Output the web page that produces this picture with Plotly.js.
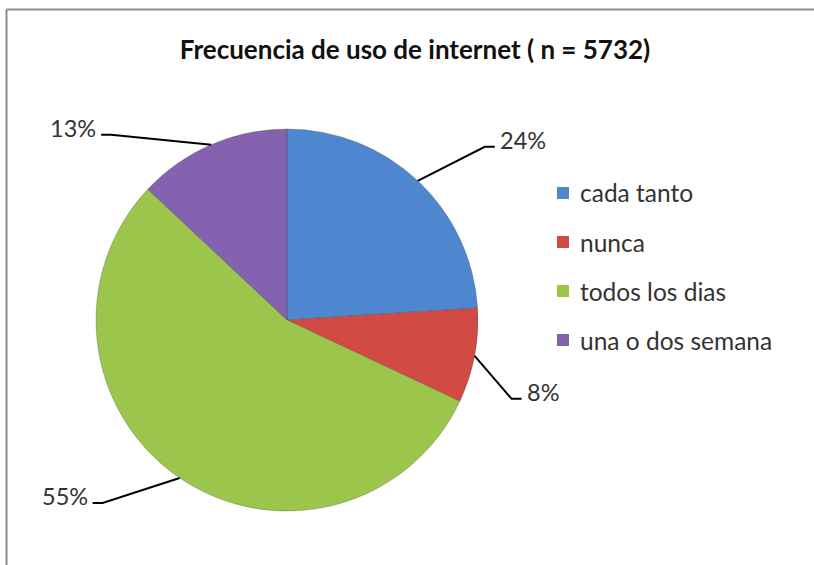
<!DOCTYPE html>
<html>
<head>
<meta charset="utf-8">
<script src="https://cdn.plot.ly/plotly-3.0.1.min.js"></script>
<style>html,body{margin:0;padding:0;background:#fff;}#chart{width:814px;height:565px;}</style>
</head>
<body>
<div id="chart"></div>
<script>
// ---- data ----
var categories = ["cada tanto", "nunca", "todos los dias", "una o dos semana"];
var percents = [24, 8, 55, 13];
var chartTitle = "Frecuencia de uso de internet ( n = 5732)";

// ---- style / layout constants ----
var colors = ["#4E86CF", "#D24A44", "#9CC54C", "#8462B0"];
var W = 814, H = 565;
var CX = 287, CY = 320, R = 191;           // pie centre/radius in px
var labelOffsets = [[67, -34], [37, 43], [-77, 25], [-100, -10]]; // elbow offset from edge, px
var tail = 10;
var FONT = "Lato, 'Open Sans', sans-serif";

function px(x) { return x / W; }
function py(y) { return 1 - y / H; }

var total = percents.reduce(function (a, b) { return a + b; }, 0);
var shapes = [];
var annotations = [];

// frame lines (left & top)
shapes.push({type: "line", xref: "paper", yref: "paper", x0: px(6.5), y0: py(566), x1: px(6.5), y1: py(9.5),
  line: {color: "#8c8c8c", width: 2}});
shapes.push({type: "line", xref: "paper", yref: "paper", x0: px(6.5), y0: py(9.5), x1: px(816), y1: py(9.5),
  line: {color: "#8c8c8c", width: 2}});

// leader lines + labels from data angles
var cum = 0;
for (var i = 0; i < percents.length; i++) {
  var mid = (cum + percents[i] / 2) / total;
  cum += percents[i];
  var ang = mid * 2 * Math.PI;
  var ex = CX + R * Math.sin(ang), ey = CY - R * Math.cos(ang);
  var bx = ex + labelOffsets[i][0], by = ey + labelOffsets[i][1];
  var dir = labelOffsets[i][0] >= 0 ? 1 : -1;
  var tx = bx + dir * tail;
  shapes.push({type: "path", xref: "paper", yref: "paper",
    path: "M " + px(ex) + " " + py(ey) + " L " + px(bx) + " " + py(by) + " L " + px(tx) + " " + py(by),
    line: {color: "#000", width: 2}});
  annotations.push({xref: "paper", yref: "paper", x: px(tx + dir * 3), y: py(by - 7),
    xanchor: dir > 0 ? "left" : "right", yanchor: "middle", showarrow: false,
    text: Math.round(percents[i] / total * 100) + "%",
    font: {family: FONT, size: 23.5, color: "#333333"}});
}

// custom legend
var legX = 557, legY0 = 193, legStep = 49, sq = 12;
for (var j = 0; j < categories.length; j++) {
  var ly = legY0 + j * legStep;
  shapes.push({type: "rect", xref: "paper", yref: "paper",
    x0: px(legX), x1: px(legX + sq), y0: py(ly + sq / 2), y1: py(ly - sq / 2),
    fillcolor: colors[j], line: {color: colors[j], width: 0}});
  annotations.push({xref: "paper", yref: "paper", x: px(legX + sq + 9), y: py(ly),
    xanchor: "left", yanchor: "middle", showarrow: false, text: categories[j],
    font: {family: FONT, size: 24.5, color: "#333333"}});
}

var trace = {
  type: "pie",
  labels: categories,
  values: percents,
  sort: false,
  direction: "clockwise",
  rotation: 0,
  textinfo: "none",
  hoverinfo: "label+percent",
  marker: {colors: colors, line: {color: "rgba(60,60,60,0.35)", width: 0.8}},
  domain: {x: [px(CX - R), px(CX + R)], y: [py(CY + R), py(CY - R)]},
  showlegend: false
};

var layout = {
  width: W, height: H,
  margin: {l: 0, r: 0, t: 0, b: 0},
  paper_bgcolor: "#ffffff",
  showlegend: false,
  title: {text: "<b>" + chartTitle + "</b>", x: 415 / W, xanchor: "center", y: py(50), yanchor: "middle",
    yref: "container", xref: "container", font: {family: FONT, size: 26, color: "#111111"}},
  shapes: shapes,
  annotations: annotations
};

Plotly.newPlot("chart", [trace], layout, {displayModeBar: false, staticPlot: true});
</script>
</body>
</html>
